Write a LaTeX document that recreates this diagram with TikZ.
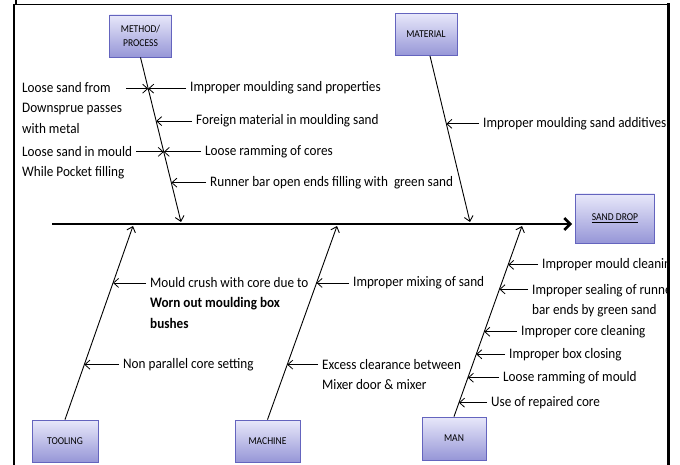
\documentclass[tikz,border=0pt]{standalone}
\usepackage{fontspec}
\setmainfont{Carlito}[FakeStretch=0.91]
\usetikzlibrary{arrows.meta}

\definecolor{cattop}{RGB}{232,232,250}
\definecolor{catbot}{RGB}{150,150,215}
\definecolor{catline}{RGB}{100,100,190}

\begin{document}
\begin{tikzpicture}[
  x=1pt, y=-1pt,
  >={Straight Barb[length=5pt,width=9pt]},
  cat/.style={draw=catline, line width=0.8pt, top color=cattop, bottom color=catbot,
    minimum width=62pt, minimum height=42pt, align=center, inner sep=1pt,
    font=\fontsize{10.5}{14}\selectfont},
  cause/.style={inner xsep=4pt, inner ysep=1pt, align=left, font=\fontsize{14.5}{20.5}\selectfont},
  bone/.style={->, line width=0.9pt},
  twig/.style={->, line width=0.8pt}
]
\useasboundingbox (0,0) rectangle (680,465);

\begin{scope}
\clip (0,0) rectangle (667,465);

% category boxes
\node[cat] (method) at (140.5,36) {METHOD/\\PROCESS};
\node[cat] (material) at (426,34.5) {MATERIAL};
\node[cat, minimum width=79pt, minimum height=49pt] (sand) at (615,218.5) {\underline{SAND DROP}};
\node[cat, minimum width=66pt] (tooling) at (65,441) {TOOLING};
\node[cat, minimum width=65pt] (machine) at (267.5,441) {MACHINE};
\node[cat, minimum width=64pt, minimum height=43pt] (man) at (454,438.5) {MAN};

% spine
\coordinate (tail) at (52,224);
\draw[->, line width=2.6pt, >={Straight Barb[length=6pt,width=12pt]}, shorten >=3pt] (tail) -- (tail -| sand.west);

% bones
\coordinate (mj) at (181,222);
\coordinate (matj) at (470,222);
\coordinate (tj) at (133,226);
\coordinate (mcj) at (337,226);
\coordinate (manj) at (522,226);
\draw[bone] (method.south) -- (mj)
  coordinate[pos=.19] (m1) coordinate[pos=.387] (m2)
  coordinate[pos=.574] (m3) coordinate[pos=.761] (m4);
\draw[bone] ([xshift=4pt]material.south) -- (matj) coordinate[pos=.409] (r1);
\draw[bone] (tooling.north) -- (tj) coordinate[pos=.284] (t1) coordinate[pos=.706] (t2);
\draw[bone] (machine.north) -- (mcj) coordinate[pos=.284] (c1) coordinate[pos=.706] (c2);
\draw[bone] (man.north) -- (manj)
  coordinate[pos=.073] (n1) coordinate[pos=.204] (n2) coordinate[pos=.327] (n3)
  coordinate[pos=.445] (n4) coordinate[pos=.668] (n5) coordinate[pos=.796] (n6);

% method / process
\node[cause, anchor=west] (p1) at (186,88) {Improper moulding sand properties};
\node[cause, anchor=west] (p2) at (192,121) {Foreign material in moulding sand};
\node[cause, anchor=west] (p3) at (201,152) {Loose ramming of cores};
\node[cause, anchor=west] (p4) at (206,183) {Runner bar open ends filling with\ \ green sand};
\node[cause, anchor=north west] (q1) at (18,81) {Loose sand from\\Downsprue passes\\with metal};
\node[cause, anchor=north west] (q2) at (18,145) {Loose sand in mould\\While Pocket filling};
\draw[twig] (p1.west |- m1) -- (m1);
\draw[twig] (p2.west |- m2) -- (m2);
\draw[twig] (p3.west |- m3) -- (m3);
\draw[twig] (p4.west |- m4) -- (m4);
\draw[twig] (q1.east |- m1) -- (m1);
\draw[twig] (q2.east |- m3) -- (m3);

% material
\node[cause, anchor=west] (a1) at (479,124) {Improper moulding sand additives};
\draw[twig] (a1.west |- r1) -- (r1);

% tooling
\node[cause, anchor=north west] (s1) at (146,276) {Mould crush with core due to\\\textbf{Worn out moulding box}\\\textbf{bushes}};
\node[cause, anchor=west] (s2) at (119,365) {Non parallel core setting};
\draw[twig] (s1.west |- t2) -- (t2);
\draw[twig] (s2.west |- t1) -- (t1);

% machine
\node[cause, anchor=west] (u1) at (349,283) {Improper mixing of sand};
\node[cause, anchor=north west] (u2) at (318,358) {Excess clearance between\\Mixer door \& mixer};
\draw[twig] (u1.west |- c2) -- (c2);
\draw[twig] (u2.west |- c1) -- (c1);

% man
\node[cause, anchor=west] (v1) at (538,265) {Improper mould cleaning};
\node[cause, anchor=north west] (v2) at (528,283) {Improper sealing of runner\\bar ends by green sand};
\node[cause, anchor=west] (v3) at (517,332) {Improper core cleaning};
\node[cause, anchor=west] (v4) at (505,355) {Improper box closing};
\node[cause, anchor=west] (v5) at (499,378) {Loose ramming of mould};
\node[cause, anchor=west] (v6) at (487,403) {Use of repaired core};
\draw[twig] (v1.west |- n6) -- (n6);
\draw[twig] (v2.west |- n5) -- (n5);
\draw[twig] (v3.west |- n4) -- (n4);
\draw[twig] (v4.west |- n3) -- (n3);
\draw[twig] (v5.west |- n2) -- (n2);
\draw[twig] (v6.west |- n1) -- (n1);
\end{scope}

% frame
\draw[line width=2.2pt] (14,465) -- (14,5);
\draw[line width=1pt] (13,5) -- (669,5);
\draw[line width=3pt] (668,3.5) -- (668,465);
\draw[line width=2pt] (16,0) -- (16,5);
\end{tikzpicture}
\end{document}
